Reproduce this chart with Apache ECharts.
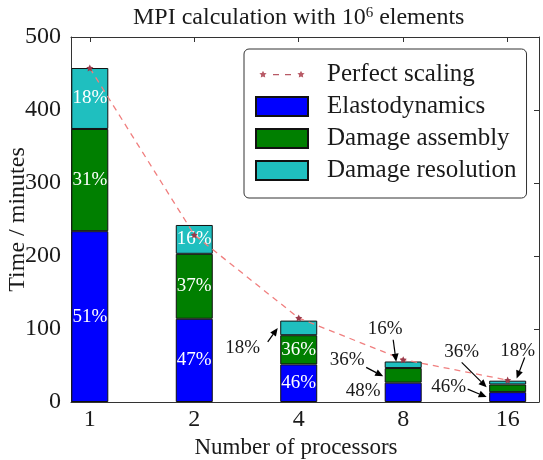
<!DOCTYPE html>
<html><head><meta charset="utf-8">
<script src="https://cdn.jsdelivr.net/npm/echarts@6/dist/echarts.min.js"></script>
<style>html,body{margin:0;padding:0;background:#fff}#c{width:543px;height:460px}</style>
</head><body><div id="c"></div>
<script>
// ---- data ----
const processors = ['1', '2', '4', '8', '16'];
const positions = [1, 2, 3, 4, 5];
const perfectScaling = [457.5, 229, 115, 58, 30];
const elastodynamics = [234, 114, 51.5, 26.5, 13.5];
const damageAssembly = [140, 89, 40, 20, 10.5];
const damageResolution = [83.5, 39.5, 20, 9, 5.2];
const yTicks = [0, 100, 200, 300, 400, 500];

// ---- styling / layout ----
const FONT = 'Liberation Serif';
const TXT = '#1a1a1a';
const segments = [elastodynamics, damageAssembly, damageResolution];
const totals = positions.map((_, i) => segments.reduce((s, a) => s + a[i], 0));
const pct = (seg, i) => Math.round(segments[seg][i] / totals[i] * 100) + '%';
// which segment labels sit inside the bar (white)
const insideFlags = [
  [true, true, true, false, false],
  [true, true, true, false, false],
  [true, true, false, false, false]
];
// callouts: bar index, segment, pixel offsets for arrow tip (from bar centre / segment middle), tail and label (from tip)
const callouts = [
  {bar: 2, seg: 2, tip: [-21, 0], tail: [-10, 14], label: [-35, 20]},
  {bar: 3, seg: 2, tip: [-7, -3], tail: [-3, -22], label: [-11, -33]},
  {bar: 3, seg: 1, tip: [-20, 1], tail: [-17, -9], label: [-36, -16]},
  {bar: 3, seg: 0, tip: [-20, 0], tail: null, label: [-20, -1]},
  {bar: 4, seg: 2, tip: [9, -4], tail: [8, -21], label: [1, -28]},
  {bar: 4, seg: 1, tip: [-21, -1], tail: [-25, -25], label: [-25, -35]},
  {bar: 4, seg: 0, tip: [-21, 0], tail: [-19, -8], label: [-38, -10]}
];
const segMid = (seg, i) => {
  let b = 0;
  for (let k = 0; k < seg; k++) b += segments[k][i];
  return b + segments[seg][i] / 2;
};

const starPts = [[0,-10],[2.94,-4.05],[9.51,-3.09],[4.76,1.55],[5.88,8.09],[0,5],[-5.88,8.09],[-4.76,1.55],[-9.51,-3.09],[-2.94,-4.05]];
const starPath = (cx, cy, s) => 'M' + starPts.map(p => (cx + p[0] * s).toFixed(2) + ',' + (cy + p[1] * s).toFixed(2)).join('L') + 'Z';
const star = 'path://' + starPath(0, 0, 1);
// legend icon: star - - star (box 52 x 19)
const legendLineIcon = 'path://M0,0L0.1,0L0.1,0.1Z M52,19L51.9,19L51.9,18.9Z ' +
  starPath(7, 9.5, 0.38) + ' ' + starPath(45, 9.5, 0.38) +
  ' M17,9L23,9L23,10.3L17,10.3Z M29,9L35,9L35,10.3L29,10.3Z';
const colors = ['#0000ff', '#007f00', '#1fbfbf'];
const names = ['Elastodynamics', 'Damage assembly', 'Damage resolution'];

const barSeries = segments.map((arr, s) => ({
  name: names[s],
  type: 'bar',
  stack: 'total',
  barWidth: 37,
  // value first so that the stack applies to the y dimension
  data: positions.map((x, i) => [arr[i], x]),
  encode: {x: 1, y: 0},
  itemStyle: {color: colors[s], borderColor: '#111', borderWidth: 1},
  label: {
    show: true, position: 'inside', color: '#fff', fontFamily: FONT, fontSize: 19,
    formatter: p => insideFlags[s][p.dataIndex] ? pct(s, p.dataIndex) : ''
  },
  emphasis: {disabled: true},
  z: 2
}));

const axisLineStyle = {color: '#333', width: 1};

const option = {
  animation: false,
  backgroundColor: '#fff',
  title: {
    text: 'MPI calculation with 10{sup|6} elements',
    left: 128, top: 1,
    textStyle: {
      fontFamily: FONT, fontSize: 24, fontWeight: 'normal', color: TXT,
      rich: {sup: {fontFamily: FONT, fontSize: 15, color: TXT, verticalAlign: 'top', lineHeight: 14}}
    }
  },
  grid: {left: 71, right: 4, top: 37, bottom: 58, containLabel: false, outerBoundsMode: 'none'},
  legend: {
    orient: 'vertical', left: 244, top: 49,
    padding: [13, 10, 15, 11],
    itemWidth: 52, itemHeight: 19, itemGap: 7,
    backgroundColor: '#fff', borderColor: '#333', borderWidth: 1, borderRadius: 5,
    textStyle: {fontFamily: FONT, fontSize: 25, color: TXT, padding: [0, 0, 0, 14]},
    data: [
      {name: 'Perfect scaling', icon: legendLineIcon, itemStyle: {color: '#b85a66', borderWidth: 0}},
      ...names.map(n => ({name: n, icon: 'rect'}))
    ]
  },
  xAxis: [
    {
      type: 'value', min: 0.82, max: 5.3, position: 'bottom',
      axisLine: {show: true, onZero: false, lineStyle: axisLineStyle},
      axisTick: {show: true, inside: true, length: 5, customValues: positions, lineStyle: axisLineStyle},
      axisLabel: {customValues: positions, formatter: v => processors[positions.indexOf(v)], fontFamily: FONT, fontSize: 24, color: TXT, margin: 6},
      splitLine: {show: false},
      name: 'Number of processors{pad|}', nameLocation: 'middle', nameGap: 30,
      nameTextStyle: {fontFamily: FONT, fontSize: 23, color: TXT, rich: {pad: {width: 18, fontSize: 23}}}
    },
    {
      type: 'value', min: 0.82, max: 5.3, position: 'top',
      axisLine: {show: true, onZero: false, lineStyle: axisLineStyle},
      axisTick: {show: true, inside: true, length: 5, customValues: positions, lineStyle: axisLineStyle},
      axisLabel: {show: false}, splitLine: {show: false}
    }
  ],
  yAxis: [
    {
      type: 'value', min: 0, max: 500, interval: 100, position: 'left',
      axisLine: {show: true, lineStyle: axisLineStyle},
      axisTick: {show: true, inside: true, length: 5, lineStyle: axisLineStyle},
      axisLabel: {fontFamily: FONT, fontSize: 24, color: TXT, margin: 10, formatter: v => yTicks.includes(v) ? String(v) : ''},
      splitLine: {show: false},
      name: 'Time / minutes', nameLocation: 'middle', nameGap: 41, nameRotate: 90,
      nameMoveOverlap: false,
      nameTextStyle: {fontFamily: FONT, fontSize: 24, color: TXT}
    },
    {
      type: 'value', min: 0, max: 500, interval: 100, position: 'right',
      axisLine: {show: true, lineStyle: axisLineStyle},
      axisTick: {show: true, inside: true, length: 5, lineStyle: axisLineStyle},
      axisLabel: {show: false}, splitLine: {show: false}
    }
  ],
  series: [
    {
      name: 'Perfect scaling', type: 'line',
      data: positions.map((x, i) => [x, perfectScaling[i]]),
      lineStyle: {color: '#f07f7f', type: [6, 5], width: 1.3},
      symbol: star, symbolSize: 7,
      itemStyle: {color: '#9a3a4a'},
      emphasis: {disabled: true},
      z: 5
    },
    ...barSeries,
    {
      type: 'custom', z: 6, silent: true, clip: false,
      data: callouts.map(c => [positions[c.bar], segMid(c.seg, c.bar)]),
      renderItem: (params, api) => {
        const c = callouts[params.dataIndex];
        const p = api.coord([api.value(0), api.value(1)]);
        const tip = [p[0] + c.tip[0], p[1] + c.tip[1]];
        const children = [{
          type: 'text',
          style: {
            x: tip[0] + c.label[0], y: tip[1] + c.label[1],
            text: pct(c.seg, c.bar), fill: TXT, font: '19px "' + FONT + '"',
            align: 'center', verticalAlign: 'middle'
          }
        }];
        if (c.tail) {
          const tail = [tip[0] + c.tail[0], tip[1] + c.tail[1]];
          const dx = tip[0] - tail[0], dy = tip[1] - tail[1];
          const L = Math.hypot(dx, dy), ux = dx / L, uy = dy / L;
          const hl = 8, hw = 3.5;
          const base = [tip[0] - ux * hl, tip[1] - uy * hl];
          children.push({
            type: 'line',
            shape: {x1: tail[0], y1: tail[1], x2: base[0], y2: base[1]},
            style: {stroke: '#000', lineWidth: 1.2}
          });
          children.push({
            type: 'polygon',
            shape: {points: [tip, [base[0] - uy * hw, base[1] + ux * hw], [base[0] + uy * hw, base[1] - ux * hw]]},
            style: {fill: '#000'}
          });
        }
        return {type: 'group', children};
      }
    }
  ]
};

const chart = echarts.init(document.getElementById('c'), null, {renderer: 'canvas'});
chart.setOption(option);
</script>
</body></html>
